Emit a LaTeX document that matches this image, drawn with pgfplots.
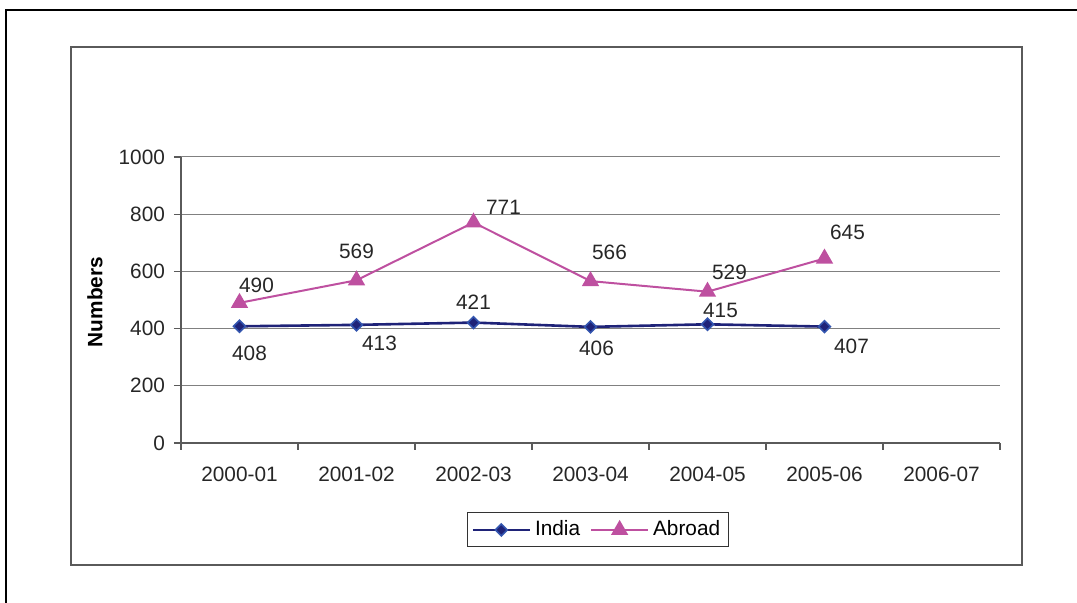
\documentclass[border=0pt]{standalone}
\usepackage{fontspec}
\setmainfont{Liberation Sans}
\usepackage{pgfplots}
\pgfplotsset{compat=1.18}
\definecolor{indiaC}{RGB}{31,35,120}
\definecolor{indiaE}{RGB}{51,85,175}
\definecolor{abroadC}{RGB}{190,80,160}
\definecolor{axisC}{RGB}{90,90,90}
\begin{document}
\begin{tikzpicture}[x=0.5pt,y=0.5pt]
\useasboundingbox (0,0) rectangle (1077,603);
\draw[line width=1.2pt, black] (6,-10) -- (6,593) -- (1090,593);
\draw[line width=0.6pt, axisC] (71,38) rectangle (1022,556);
\coordinate (O) at (181,160);
\begin{axis}[
  at={(O)}, anchor=south west,
  scale only axis, width=409.5pt, height=143pt,
  xmin=0, xmax=7, ymin=0, ymax=1000,
  axis lines=left, axis line style={axisC, line width=0.6pt, -},
  xtick={0.5,1.5,...,6.5},
  xticklabels={2000-01,2001-02,2002-03,2003-04,2004-05,2005-06,2006-07},
  minor xtick={0,1,...,7},
  major x tick style={draw=none},
  minor tick length=3.5pt,
  major tick length=3.5pt,
  tick align=outside,
  tick style={axisC, line width=0.6pt},
  ytick={0,200,...,1000},
  ymajorgrids, grid style={gray, line width=0.5pt},
  tick label style={font=\fontsize{10.4}{12}\selectfont, text=black!85},
  /pgf/number format/assume math mode=true,
  /pgf/number format/1000 sep={},
  xticklabel style={yshift=-5pt},
  yticklabel style={xshift=-1pt},
  clip=false,
  legend style={at={(0.509,-0.304)}, anchor=center, legend columns=2,
    draw=black!80, line width=0.5pt, font=\fontsize{10.4}{12}\selectfont,
    /tikz/every even column/.append style={column sep=3pt},
    inner sep=2pt},
  legend image code/.code={\draw[mark repeat=2,mark phase=2,#1] plot coordinates {(0cm,0cm) (0.5cm,0cm) (1.0cm,0cm)};},
]
\addplot[indiaC, line width=1.3pt, mark=square*, mark size=2.1pt,
  mark options={fill=indiaC, draw=indiaE, line width=0.8pt, rotate=45}]
  coordinates {(0.5,408) (1.5,413) (2.5,421) (3.5,406) (4.5,415) (5.5,407)};
\addlegendentry{India}
\addplot[abroadC, line width=1pt, mark=triangle*, mark size=4pt,
  mark options={fill=abroadC, draw=abroadC}]
  coordinates {(0.5,490) (1.5,569) (2.5,771) (3.5,566) (4.5,529) (5.5,645)};
\addlegendentry{Abroad}
\begin{scope}[every node/.style={font=\fontsize{10.4}{12}\selectfont, text=black!85}]
\node at (axis cs:0.5,408) [xshift=5pt,yshift=-13.5pt] {408};
\node at (axis cs:1.5,413) [xshift=11.5pt,yshift=-9pt] {413};
\node at (axis cs:2.5,421) [xshift=0pt,yshift=10pt] {421};
\node at (axis cs:3.5,406) [xshift=3pt,yshift=-10.5pt] {406};
\node at (axis cs:4.5,415) [xshift=6.5pt,yshift=7pt] {415};
\node at (axis cs:5.5,407) [xshift=13.5pt,yshift=-10pt] {407};
\node at (axis cs:0.5,490) [xshift=8.5pt,yshift=9pt] {490};
\node at (axis cs:1.5,569) [xshift=0pt,yshift=14.5pt] {569};
\node at (axis cs:2.5,771) [xshift=15pt,yshift=7.5pt] {771};
\node at (axis cs:3.5,566) [xshift=9.5pt,yshift=14.5pt] {566};
\node at (axis cs:4.5,529) [xshift=11pt,yshift=9.5pt] {529};
\node at (axis cs:5.5,645) [xshift=11.5pt,yshift=13pt] {645};
\end{scope}
\end{axis}
\node[rotate=90, font=\fontsize{10.4}{12}\selectfont\bfseries] at (95,301) {Numbers};
\end{tikzpicture}
\end{document}
